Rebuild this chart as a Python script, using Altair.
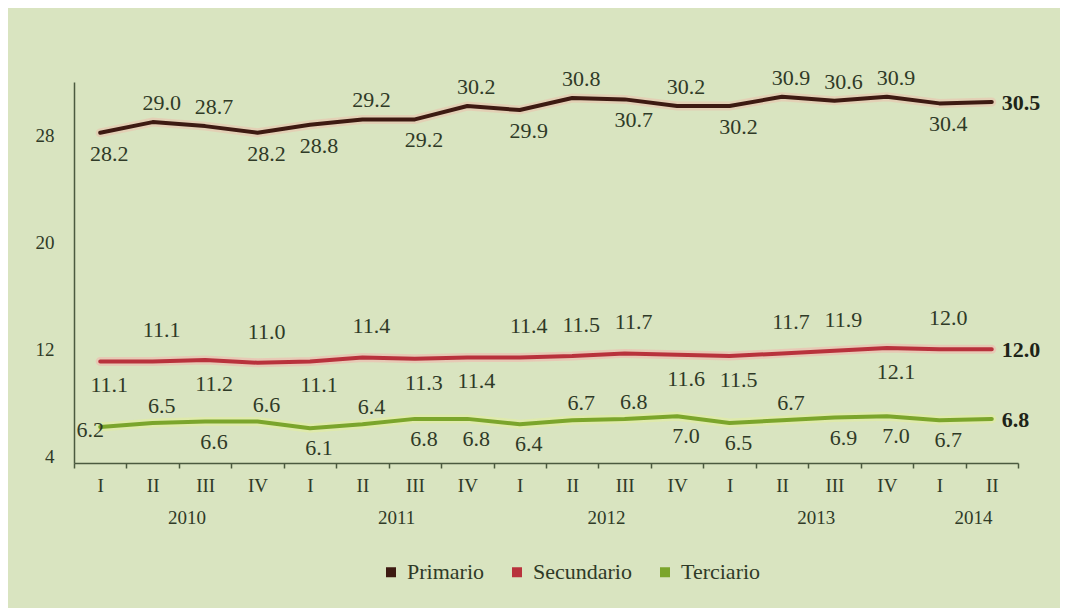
import altair as alt
import pandas as pd

# ---------------- data ----------------
years = ["2010", "2011", "2012", "2013", "2014"]
quarters_per_year = [["I", "II", "III", "IV"], ["I", "II", "III", "IV"],
                     ["I", "II", "III", "IV"], ["I", "II", "III", "IV"],
                     ["I", "II"]]
series = ["Primario", "Secundario", "Terciario"]
primario = [28.2, 29.0, 28.7, 28.2, 28.8, 29.2, 29.2, 30.2, 29.9,
            30.8, 30.7, 30.2, 30.2, 30.9, 30.6, 30.9, 30.4, 30.5]
secundario = [11.1, 11.1, 11.2, 11.0, 11.1, 11.4, 11.3, 11.4, 11.4,
              11.5, 11.7, 11.6, 11.5, 11.7, 11.9, 12.1, 12.0, 12.0]
terciario = [6.2, 6.5, 6.6, 6.6, 6.1, 6.4, 6.8, 6.8, 6.4,
             6.7, 6.8, 7.0, 6.5, 6.7, 6.9, 7.0, 6.7, 6.8]
y_ticks = [4, 12, 20, 28]

# label placement (style)
A, B, L, E = "above", "below", "left", "end"
sides = {
    "Primario": [B, A, A, B, B, A, B, A, B, A, B, A, B, A, A, A, B, E],
    "Secundario": [B, A, B, A, B, A, B, B, A, A, A, B, B, A, A, B, A, E],
    "Terciario": [L, A, B, A, B, A, B, B, B, A, A, B, B, A, B, B, B, E],
}

# ---------------- styles ----------------
FONT = "Liberation Serif"
BG = "#d9e4c0"
TXT = "#2f3a27"
line_colors = ["#3d1a12", "#b8323c", "#7ba52c"]
halo_colors = ["#e9c3ad", "#f0b7ae", "#e2ee9c"]
label_dy = {"Primario": (-19, 21), "Secundario": (-31, 24), "Terciario": (-17, 20)}

keys = []
year_rows = []
for y, qs in zip(years, quarters_per_year):
    for q in qs:
        keys.append(f"{y}-{q}")
    year_rows.append({"year": y, "anchor": f"{y}-{qs[len(qs) // 2 - 1]}"})

rows = []
for s, vals in zip(series, [primario, secundario, terciario]):
    for k, v, sd in zip(keys, vals, sides[s]):
        rows.append({"series": s, "key": k, "value": v, "side": sd})
df = pd.DataFrame(rows)
ydf = pd.DataFrame(year_rows)

xscale = alt.Scale(type="band", domain=keys, paddingInner=0, paddingOuter=0)
xaxis = alt.Axis(title=None, labelExpr="split(datum.label, '-')[1]", labelAngle=0,
                 tickBand="extent", tickSize=5, tickColor="#4b5a3f", tickWidth=1.5,
                 domainColor="#4b5a3f", domainWidth=1.5, labelFont=FONT,
                 labelFontSize=19, labelColor=TXT, labelPadding=8, grid=False)
yscale = alt.Scale(domain=[3.5, 32], nice=False, zero=False)
yaxis = alt.Axis(title=None, values=y_ticks, ticks=False, domainColor="#4b5a3f",
                 domainWidth=1.5, labelFont=FONT, labelFontSize=19, labelColor=TXT,
                 labelPadding=20, grid=False)


def X(field="key:N", band=0.5):
    return alt.X(field, scale=xscale, axis=xaxis, bandPosition=band, sort=keys)


Y = alt.Y("value:Q", scale=yscale, axis=yaxis)

layers = []
# halos
for s, hc in zip(series, halo_colors):
    layers.append(
        alt.Chart(df).transform_filter(alt.datum.series == s)
        .mark_line(strokeWidth=9, color=hc, opacity=0.6, strokeCap="round")
        .encode(x=X(), y=Y)
    )
# main lines
layers.append(
    alt.Chart(df).mark_line(strokeWidth=4, strokeCap="round", strokeJoin="round").encode(
        x=X(), y=Y,
        color=alt.Color("series:N", scale=alt.Scale(domain=series, range=line_colors),
                        legend=alt.Legend(orient="none", legendX=306, legendY=479,
                                          direction="horizontal", title=None,
                                          symbolType="square", symbolSize=25,
                                          symbolStrokeWidth=5, labelFont=FONT,
                                          labelFontSize=22, labelColor=TXT,
                                          columnPadding=20, labelOffset=5, padding=0)),
    )
)
# data labels
for s in series:
    up, down = label_dy[s]
    for sd, dy, dx, align in [(A, up, 9, "center"), (B, down, 9, "center"),
                              (L, 3, -10, "center")]:
        layers.append(
            alt.Chart(df).transform_filter((alt.datum.series == s) & (alt.datum.side == sd))
            .mark_text(dx=dx, dy=dy, align=align, baseline="middle", font=FONT,
                       fontSize=22, color=TXT)
            .encode(x=X(), y=Y, text=alt.Text("value:Q", format=".1f"))
        )
# bold end labels
layers.append(
    alt.Chart(df).transform_filter(alt.datum.side == E)
    .mark_text(dx=10, dy=1, align="left", baseline="middle", font=FONT, fontSize=22,
               fontWeight="bold", color="#1e2418")
    .encode(x=X(), y=Y, text=alt.Text("value:Q", format=".1f"))
)
# year labels
layers.append(
    alt.Chart(ydf).mark_text(dx=8, baseline="middle", font=FONT, fontSize=19, color=TXT)
    .encode(x=X("anchor:N", 1), y=alt.value(436), text="year:N")
)

chart = alt.layer(*layers).properties(
    width=944, height=381, background=BG,
    padding={"left": 66, "top": 74, "right": 42, "bottom": 145},
    autosize=alt.AutoSizeParams(type="none"),
).configure_view(stroke=None)

chart.save("out.html", embed_options={"renderer": "svg", "actions": False})
